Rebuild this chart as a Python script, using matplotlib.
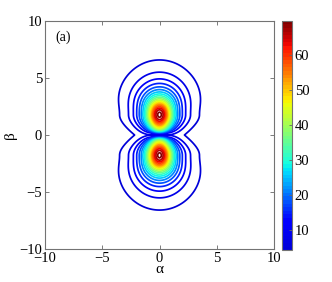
import numpy as np
import matplotlib
matplotlib.use("Agg")
import matplotlib.pyplot as plt
from matplotlib.colors import ListedColormap

# lobe parameters (two lobes on the beta axis)
peak_val = 71.0       # height at the lobe centres
peak_pos = 1.78       # |beta| of the lobe centres
beta_scale = 3.6      # beta width^2 of a lobe
tail_pow = 1.4        # power of the lobe tails
alpha_w0 = 1.9        # alpha width^2 at the lobe centre
alpha_grow = 0.75     # growth of alpha width^2 above the centre
hole_depth = 0.754    # dip between the lobes
hole_beta = 0.09      # beta width^2 of the dip at alpha = 0
hole_open = 0.12      # how fast the dip widens with alpha
hole_alpha = 3.0      # alpha width^2 of the dip

# contour levels / colour range
lev_min, lev_max, n_lev = 4.3, 69.7, 20
cbar_ticks = [10, 20, 30, 40, 50, 60]
ax_ticks = [-10, -5, 0, 5, 10]
tick_text = ['\u221210', '\u22125', '0', '5', '10']

a = np.linspace(-10, 10, 801)
b = np.linspace(-10, 10, 801)
A, B = np.meshgrid(a, b)
d = np.abs(B) - peak_pos
W = alpha_w0 + alpha_grow * np.clip(d, 0, None) ** 2
hb = hole_beta + hole_open * A ** 2
Z = peak_val * (1 + d ** 2 / beta_scale) ** -tail_pow \
    * (1 + A ** 2 / W) ** -tail_pow \
    * (1 - hole_depth * np.exp(-B ** 2 / hb - A ** 2 / hole_alpha))

# jet, but the low end stays bright blue like the matlab figure
cols = plt.cm.jet(np.linspace(0, 1, 64))
cols[:8, 2] = np.linspace(0.85, 1, 8)
cmap = ListedColormap(cols)

plt.rcParams['font.family'] = ['Liberation Serif', 'DejaVu Serif']

fig = plt.figure(figsize=(3.32, 2.82), dpi=100)
ax = fig.add_axes([0.1355, 0.117, 0.69, 0.8085])
cax = fig.add_axes([0.849, 0.113, 0.030, 0.813])

levels = np.linspace(lev_min, lev_max, n_lev)
cs = ax.contour(A, B, Z, levels=levels, cmap=cmap, vmin=lev_min, vmax=lev_max,
                linewidths=1.25)

ax.set_xlim(-10, 10)
ax.set_ylim(-10, 10)
ax.set_xticks(ax_ticks)
ax.set_yticks(ax_ticks)
ax.set_xticklabels(tick_text)
ax.set_yticklabels(tick_text)
ax.tick_params(direction='in', length=3, width=0.6, top=True, right=True,
               labelsize=10.5, color='0.4', pad=2)
for s in ax.spines.values():
    s.set_color('0.45')
    s.set_linewidth(0.8)
ax.set_xlabel('\u03b1', fontsize=11, labelpad=-1)
ax.set_ylabel('\u03b2', fontsize=11, labelpad=2)
ax.text(-9.1, 8.6, '(a)', fontsize=10, va='center')

sm = plt.cm.ScalarMappable(cmap=cmap, norm=plt.Normalize(lev_min, lev_max))
cb = fig.colorbar(sm, cax=cax, ticks=cbar_ticks)
cb.ax.tick_params(direction='in', length=2, width=0.6, labelsize=10.5,
                  color='0.4', pad=2)
cb.outline.set_edgecolor('0.45')
cb.outline.set_linewidth(0.8)

fig.savefig('out.png', dpi=100)
